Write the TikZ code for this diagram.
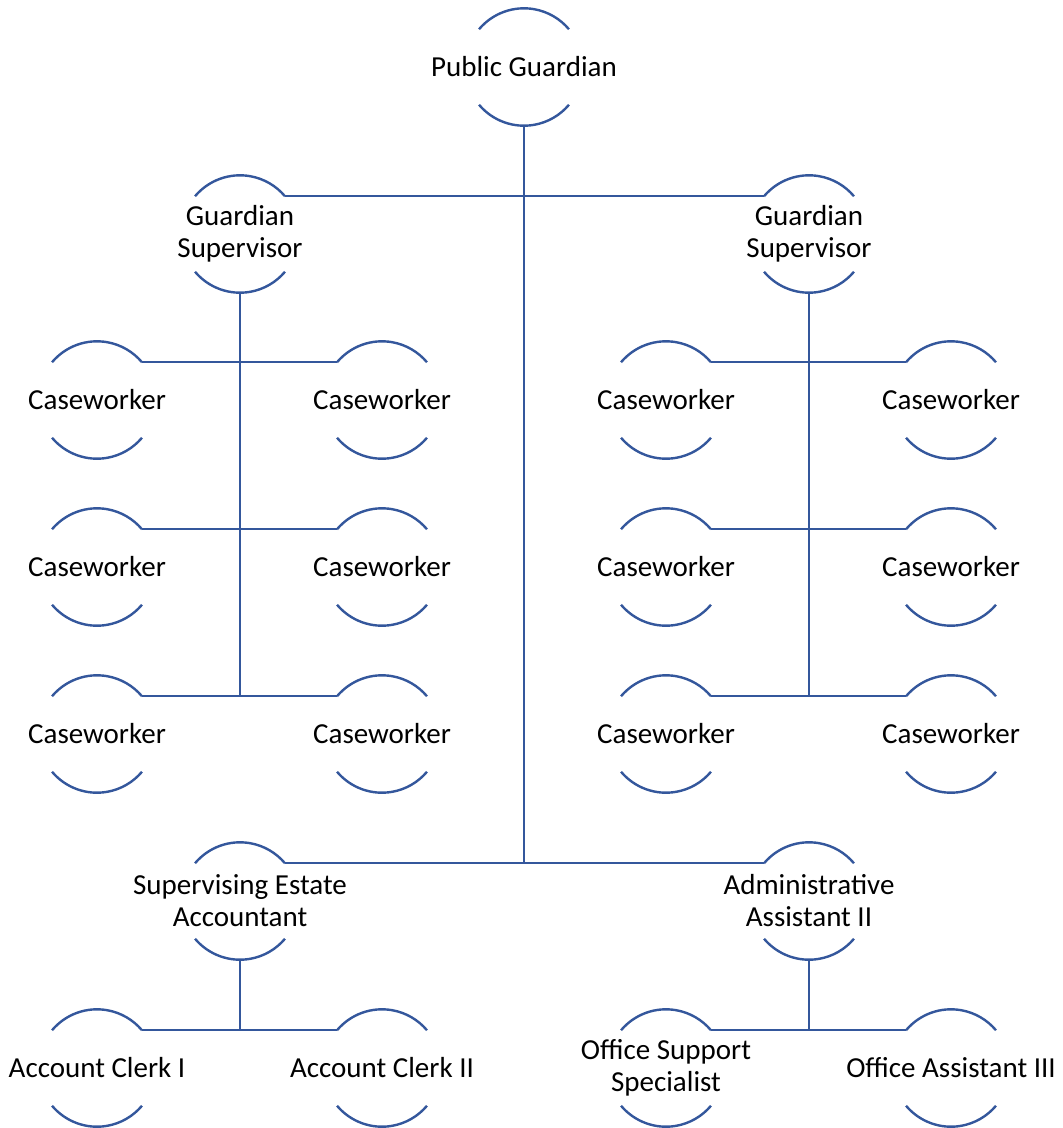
\documentclass[tikz,border=0pt]{standalone}
\usepackage{fontspec}
\setmainfont{Carlito}
\usetikzlibrary{positioning}

\definecolor{orgblue}{RGB}{52,87,156}

\tikzset{
  member/.style={circle, minimum size=117.4pt, inner sep=0pt, outer sep=0pt},
  title/.style={align=center, font=\fontsize{29}{32}\selectfont, text=black},
  rim/.style={draw=orgblue, line width=2.4pt},
  link/.style={draw=orgblue, line width=2.4pt},
}

\begin{document}
\begin{tikzpicture}[x=1pt, y=1pt]
        \useasboundingbox (0,0) rectangle (1063,-1128);

        \node[member, label={[title]center:Public Guardian}] (pg) at (524,-67) {};
        \node[member, label={[title]center:Guardian\\Supervisor}] (gs-l) at (240,-234) {};
        \node[member, label={[title]center:Guardian\\Supervisor}] (gs-r) at (809,-234) {};

        \node[member, label={[title]center:Caseworker}] (cw-l1a) at (97,-400) {};
        \node[member, label={[title]center:Caseworker}] (cw-l1b) at (382,-400) {};
        \node[member, label={[title]center:Caseworker}] (cw-l2a) at (97,-567) {};
        \node[member, label={[title]center:Caseworker}] (cw-l2b) at (382,-567) {};
        \node[member, label={[title]center:Caseworker}] (cw-l3a) at (97,-734) {};
        \node[member, label={[title]center:Caseworker}] (cw-l3b) at (382,-734) {};

        \node[member, label={[title]center:Caseworker}] (cw-r1a) at (666,-400) {};
        \node[member, label={[title]center:Caseworker}] (cw-r1b) at (951,-400) {};
        \node[member, label={[title]center:Caseworker}] (cw-r2a) at (666,-567) {};
        \node[member, label={[title]center:Caseworker}] (cw-r2b) at (951,-567) {};
        \node[member, label={[title]center:Caseworker}] (cw-r3a) at (666,-734) {};
        \node[member, label={[title]center:Caseworker}] (cw-r3b) at (951,-734) {};

        \node[member, label={[title]center:Supervising Estate\\Accountant}] (sea) at (240,-901) {};
        \node[member, label={[title]center:Administrative\\Assistant II}] (aa2) at (809,-901) {};

        \node[member, label={[title]center:Account Clerk I}] (ac1) at (97,-1068) {};
        \node[member, label={[title]center:Account Clerk II}] (ac2) at (382,-1068) {};
        \node[member, label={[title]center:Office Support\\Specialist}] (oss) at (666,-1068) {};
        \node[member, label={[title]center:Office Assistant III}] (oa3) at (951,-1068) {};

        % upper and lower arcs of every member
        \foreach \n in {pg,gs-l,gs-r,cw-l1a,cw-l1b,cw-l2a,cw-l2b,cw-l3a,cw-l3b,
                        cw-r1a,cw-r1b,cw-r2a,cw-r2b,cw-r3a,cw-r3b,sea,aa2,ac1,ac2,oss,oa3} {
          \draw[rim] (\n.140) arc[start angle=140, end angle=40, radius=58.7pt];
          \draw[rim] (\n.220) arc[start angle=220, end angle=320, radius=58.7pt];
        }

        % top level
        \draw[link] (gs-l.40) -- (gs-r.140);
        \draw[link] (sea.40) -- (aa2.140);
        \draw[link] (pg.south) -- (pg.south |- sea.40);

        % left supervisor
        \draw[link] (gs-l.south) -- (gs-l.south |- cw-l3a.40);
        \draw[link] (cw-l1a.40) -- (cw-l1b.140);
        \draw[link] (cw-l2a.40) -- (cw-l2b.140);
        \draw[link] (cw-l3a.40) -- (cw-l3b.140);

        % right supervisor
        \draw[link] (gs-r.south) -- (gs-r.south |- cw-r3a.40);
        \draw[link] (cw-r1a.40) -- (cw-r1b.140);
        \draw[link] (cw-r2a.40) -- (cw-r2b.140);
        \draw[link] (cw-r3a.40) -- (cw-r3b.140);

        % accountant and assistant
        \draw[link] (sea.south) -- (sea.south |- ac1.40);
        \draw[link] (ac1.40) -- (ac2.140);
        \draw[link] (aa2.south) -- (aa2.south |- oss.40);
        \draw[link] (oss.40) -- (oa3.140);
\end{tikzpicture}
\end{document}
